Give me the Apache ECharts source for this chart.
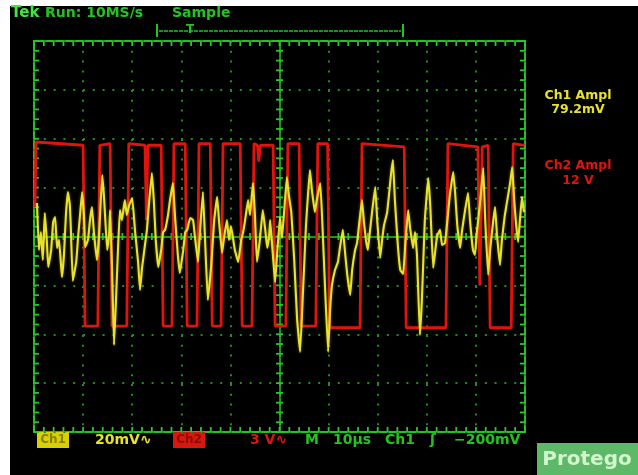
<!DOCTYPE html>
<html>
<head>
<meta charset="utf-8">
<script src="https://cdn.jsdelivr.net/npm/echarts@6/dist/echarts.min.js"></script>
<style>
  html, body { margin: 0; padding: 0; background: #ffffff; }
  #screen { position: absolute; left: 10px; top: 6px; width: 628px; height: 469px; background: #000; }
  #chart { position: absolute; left: 0; top: 0; width: 638px; height: 475px; }
</style>
</head>
<body>
<div id="screen"></div>
<div id="chart"></div>
<script>
// Time base: 10 µs/div, 10 divisions, trigger at centre
const timeRange = [-50, 50];
const timePerDiv = 10;
// Vertical scales: 8 divisions each
const ch1PerDiv = 20;   // mV/div
const ch2PerDiv = 3;    // V/div

// Channel 1 (µs, mV) — noisy analog signal
const ch1Time = [-49.4,-49.0,-48.6,-48.2,-47.8,-47.4,-47.1,-46.5,-46.1,-45.7,-45.3,-44.9,-44.3,-43.9,-43.5,-43.1,-42.7,-42.5,-42.1,-41.4,-41.0,-40.6,-40.2,-39.8,-39.6,-39.0,-38.6,-38.2,-37.8,-37.2,-36.8,-36.1,-35.7,-35.1,-34.7,-34.5,-34.1,-33.7,-33.3,-32.9,-32.5,-32.1,-31.5,-31.1,-30.6,-30.0,-29.4,-28.8,-28.4,-28.0,-27.4,-27.0,-26.6,-26.0,-25.6,-25.2,-24.7,-24.1,-23.7,-23.3,-22.7,-22.3,-21.7,-21.3,-20.7,-20.3,-19.6,-19.2,-18.8,-18.2,-17.6,-17.2,-16.6,-16.2,-15.6,-15.2,-14.6,-13.9,-13.3,-12.7,-12.3,-11.7,-11.3,-10.7,-10.3,-9.9,-9.5,-9.1,-8.4,-7.8,-7.4,-7.0,-6.4,-6.0,-5.4,-5.0,-4.6,-4.0,-3.4,-2.9,-2.5,-2.1,-1.9,-1.5,-0.9,-0.5,0.1,0.5,0.9,1.5,1.9,2.4,3.0,3.6,4.2,4.8,5.4,5.8,6.2,6.6,7.2,7.6,8.3,8.7,9.3,9.9,10.3,10.7,11.3,11.9,12.3,12.9,13.4,13.8,14.4,14.8,15.4,15.8,16.2,16.8,17.2,17.6,18.0,18.4,18.9,19.5,19.9,20.5,20.9,21.3,21.9,22.3,22.7,23.1,23.5,24.1,24.6,25.2,25.6,26.2,26.6,27.2,27.6,28.0,28.6,29.0,29.6,30.3,30.7,31.3,31.7,32.1,32.7,33.1,33.7,34.1,34.7,35.4,35.8,36.2,36.8,37.2,37.8,38.4,38.8,39.4,39.8,40.2,40.9,41.5,41.9,42.5,42.9,43.5,43.9,44.3,44.9,45.3,45.9,46.4,47.0,47.4,47.8,48.2,48.6,49.0,49.4,49.8];
const ch1Volt = [13.7,-5.5,1.8,-9.6,9.6,-1.4,-12.5,-5.5,5.9,8.0,-4.7,-1.4,-16.6,-7.6,8.8,18.2,12.9,3.5,-18.2,-10.4,0.2,9.2,18.2,7.6,-4.3,-1.4,6.7,12.1,1.8,-9.6,-1.4,25.2,14.9,-5.5,0.6,10.8,-13.7,-44.4,-26.0,-5.5,10.8,6.7,14.9,8.8,12.9,15.7,1.8,-10.4,-21.9,-12.9,-3.5,2.7,12.9,26.0,14.9,-1.4,-12.5,-5.5,1.8,2.7,8.8,14.9,21.9,8.8,-7.6,-14.9,-5.5,1.8,2.7,7.6,6.7,-0.6,-10.4,1.8,18.2,0.6,-26.0,-11.7,6.7,16.2,5.9,-6.7,-0.6,6.7,-1.4,4.3,-0.2,-5.5,-10.4,-1.4,1.8,6.7,14.9,8.8,21.9,8.8,-10.4,-1.4,10.8,2.7,-4.7,0.6,6.7,-3.5,-18.6,-7.6,8.0,-0.6,8.8,24.3,17.0,10.0,-9.6,-34.2,-47.2,-21.9,4.7,17.0,27.2,19.0,10.0,14.9,21.9,6.7,-21.9,-47.2,-30.1,-19.8,-13.7,-10.4,-4.7,2.7,-7.6,-15.7,-23.9,-13.7,-5.5,-2.7,4.7,14.9,5.9,-1.4,-5.5,1.8,10.8,20.2,6.7,-8.8,-1.4,4.7,9.6,17.0,25.2,31.3,14.9,-3.5,-13.7,-15.3,-3.5,10.8,3.5,-4.7,1.8,-7.6,-40.3,-26.0,6.7,23.9,12.9,-12.9,-6.3,0.2,2.7,-3.5,-2.7,4.7,17.0,26.4,17.0,4.7,-4.7,2.7,10.8,17.8,6.7,-5.5,-7.6,1.8,14.9,28.0,6.7,-15.7,-5.5,5.9,12.1,0.6,-11.7,-1.4,8.8,14.9,22.3,28.4,14.9,4.7,-2.2,7.6,16.2,10.0];

// Channel 2 (µs, V) — digital square wave, corner points
const ch2Time = [-49.8,-49.6,-40.0,-39.6,-37.0,-36.6,-34.5,-34.1,-31.1,-30.7,-27.4,-27.1,-26.8,-24.1,-23.7,-21.9,-21.5,-19.2,-18.8,-16.8,-16.4,-14.1,-13.7,-11.9,-11.5,-8.0,-7.6,-5.6,-5.2,-4.5,-4.2,-3.9,-1.3,-0.9,1.3,1.7,4.0,4.4,7.4,7.8,9.8,10.2,16.4,16.8,25.4,25.8,33.9,34.3,40.4,40.8,41.3,42.5,42.9,47.2,47.6,49.9];
const ch2Volt = [1.8,5.8,5.6,-5.5,-5.5,5.6,5.7,-5.5,-5.5,5.7,5.6,1.0,5.6,5.6,-5.5,-5.5,5.7,5.7,-5.5,-5.5,5.7,5.7,-5.5,-5.5,5.7,5.7,-5.5,-5.5,5.7,5.6,4.6,5.6,5.6,-5.5,-5.5,5.7,5.7,-5.5,-5.5,5.7,5.7,-5.6,-5.6,5.7,5.5,-5.6,-5.6,5.7,5.5,-3.0,5.5,5.6,-5.6,-5.6,5.7,5.6];

const GREEN = '#22c422';
const TICK_GREEN = '#27c827';
const GRID_DOT = '#1f8f1f';
const YELLOW = '#e8e22e';
const RED = '#e0140f';
const FONT = 'DejaVu Sans';

const zip = (xs, ys) => xs.map((x, i) => [x, ys[i]]);

// graticule tick positions: five per division
const tickTimes = [];
for (let i = 0; i <= 50; i++) tickTimes.push(timeRange[0] + i * timePerDiv / 5);
const tickLevels = [];
for (let i = 0; i <= 40; i++) tickLevels.push(-4 * ch1PerDiv + i * ch1PerDiv / 5);
const yTop = 4 * ch1PerDiv, yBot = -4 * ch1PerDiv;

// tick marks drawn as thin rectangular symbols
function tickSeries(data, size, offset) {
  return {
    type: 'scatter', data: data, symbol: 'rect', symbolSize: size, symbolOffset: offset,
    itemStyle: { color: TICK_GREEN, opacity: 1 }, silent: true, clip: false, z: 5, xAxisIndex: 0, yAxisIndex: 0,
    animation: false
  };
}

const chart = echarts.init(document.getElementById('chart'), null, { renderer: 'canvas' });

const dotted = { show: true, lineStyle: { color: GRID_DOT, width: 2, type: [2, 7.8] } };

function txt(x, y, text, fill, size, align) {
  return { type: 'text', x: x, y: y, style: { text: text, fill: fill, align: align || 'left', verticalAlign: 'middle', font: `bold ${size}px "${FONT}"` } };
}

const option = {
  backgroundColor: 'transparent',
  animation: false,
  grid: { left: 34, top: 41, width: 491, height: 391, show: true, borderColor: GREEN, borderWidth: 2, backgroundColor: 'transparent' },
  xAxis: {
    type: 'value', min: timeRange[0], max: timeRange[1], interval: timePerDiv,
    axisLabel: { show: false }, axisTick: { show: false },
    axisLine: { show: true, onZero: true, onZeroAxisIndex: 0, lineStyle: { color: GREEN, width: 1.5 } },
    splitLine: dotted
  },
  yAxis: [
    {
      type: 'value', min: yBot, max: yTop, interval: ch1PerDiv,
      axisLabel: { show: false }, axisTick: { show: false },
      axisLine: { show: true, onZero: true, lineStyle: { color: GREEN, width: 1.5 } },
      splitLine: dotted
    },
    {
      type: 'value', min: -4 * ch2PerDiv, max: 4 * ch2PerDiv, interval: ch2PerDiv,
      axisLabel: { show: false }, axisTick: { show: false }, axisLine: { show: false }, splitLine: { show: false }
    }
  ],
  series: [
    // centre-line crosses and border ticks
    tickSeries(tickTimes.map(t => [t, 0]), [1.8, 7], [0, 0]),
    tickSeries(tickTimes.map(t => [t, yTop]), [1.8, 5], [0, 2.5]),
    tickSeries(tickTimes.map(t => [t, yBot]), [1.8, 5], [0, -2.5]),
    tickSeries(tickLevels.map(v => [0, v]), [7, 1.8], [0, 0]),
    tickSeries(tickLevels.map(v => [timeRange[0], v]), [5, 1.8], [2.5, 0]),
    tickSeries(tickLevels.map(v => [timeRange[1], v]), [5, 1.8], [-2.5, 0]),
    {
      name: 'Ch2', type: 'line', xAxisIndex: 0, yAxisIndex: 1,
      data: zip(ch2Time, ch2Volt), showSymbol: false, smooth: false, z: 6,
      lineStyle: { color: RED, width: 2.8 }
    },
    {
      name: 'Ch1', type: 'line', xAxisIndex: 0, yAxisIndex: 0,
      data: zip(ch1Time, ch1Volt), showSymbol: false, smooth: 0.1, z: 7,
      lineStyle: { color: YELLOW, width: 2.1, shadowColor: 'rgba(230,220,40,0.45)', shadowBlur: 3 }
    }
  ],
  graphic: [
    // status line
    txt(11, 13, 'Tek', '#3ee83e', 15),
    txt(45, 13, 'Run: 10MS/s', GREEN, 14),
    txt(172, 13, 'Sample', GREEN, 14),
    // record window bracket with trigger marker
    { type: 'line', shape: { x1: 159, y1: 31, x2: 401, y2: 31 }, style: { stroke: GREEN, lineWidth: 1.5, lineDash: [4, 1] } },
    { type: 'line', shape: { x1: 157, y1: 24, x2: 157, y2: 37 }, style: { stroke: GREEN, lineWidth: 2 } },
    { type: 'line', shape: { x1: 403, y1: 24, x2: 403, y2: 37 }, style: { stroke: GREEN, lineWidth: 2 } },
    txt(190, 30, 'T', GREEN, 12, 'center'),
    // channel readouts on the right
    txt(578, 96, 'Ch1 Ampl', YELLOW, 12.5, 'center'),
    txt(578, 110, '79.2mV', YELLOW, 12.5, 'center'),
    txt(578, 166, 'Ch2 Ampl', RED, 12.5, 'center'),
    txt(578, 181, '12 V', RED, 12.5, 'center'),
    // bottom settings line
    { type: 'rect', shape: { x: 37, y: 432, width: 32, height: 16 }, style: { fill: '#d8d000' } },
    txt(53, 440, 'Ch1', '#8a7f00', 12, 'center'),
    txt(95, 440, '20mV∿', YELLOW, 14),
    { type: 'rect', shape: { x: 173, y: 432, width: 32, height: 16 }, style: { fill: '#d8180f' } },
    txt(189, 440, 'Ch2', '#8e0a06', 12, 'center'),
    txt(250, 440, '3 V∿', RED, 14),
    txt(305, 440, 'M', GREEN, 14),
    txt(333, 440, '10µs', GREEN, 14),
    txt(385, 440, 'Ch1', GREEN, 14),
    txt(430, 440, 'ʃ', GREEN, 14),
    txt(454, 440, '−200mV', GREEN, 14),
    // logo
    { type: 'rect', shape: { x: 537, y: 443, width: 101, height: 32 }, style: { fill: '#5db868' } },
    txt(587, 460, 'Protego', '#d2f5cc', 20, 'center')
  ]
};

chart.setOption(option);
</script>
</body>
</html>
